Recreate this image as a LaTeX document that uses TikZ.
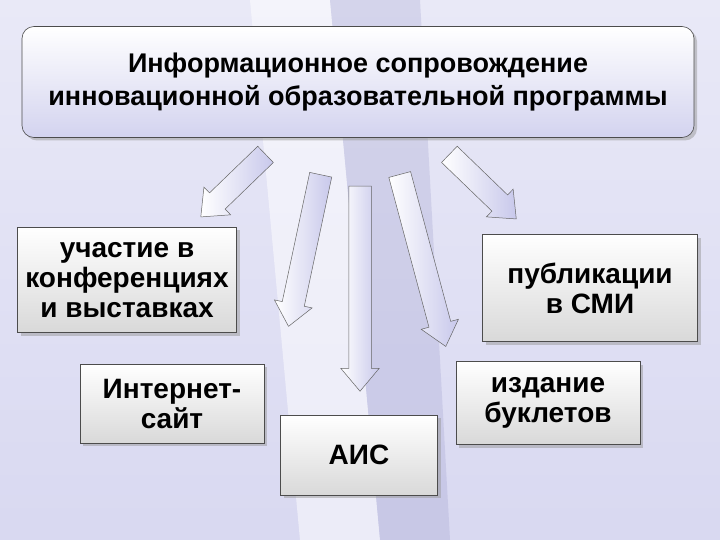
\documentclass[tikz,border=0pt]{standalone}
\usepackage{fontspec}
\setmainfont{Liberation Sans}
\usetikzlibrary{shapes.arrows,shadows}
\definecolor{lav}{RGB}{200,200,235}
\definecolor{lavd}{RGB}{150,150,200}
\tikzset{
 box/.style={draw=black!70,line width=0.6pt,top color=white,bottom color=black!15,
   drop shadow={shadow xshift=3pt,shadow yshift=-3pt,fill=black!40},
   font=\bfseries\fontsize{28}{30}\selectfont,align=center,inner sep=1pt},
 barrow/.style={single arrow,draw=black!60,line width=0.5pt,left color=white,right color=lav,
   single arrow head extend=8pt,single arrow tip angle=80,inner xsep=0pt,inner ysep=11pt}
}
\begin{document}
\begin{tikzpicture}[x=1pt,y=-1pt]
\useasboundingbox (0,0) rectangle (720,540);
\fill[top color=lav!40,bottom color=lav!70] (0,0) rectangle (720,540);
\fill[white,opacity=0.5] (250,0) -- (330,0) -- (380,540) -- (300,540) -- cycle;
\fill[lavd,opacity=0.25] (330,0) -- (420,0) -- (450,540) -- (380,540) -- cycle;
\node[box,rounded corners=12pt,top color=white,bottom color=lav!80,minimum width=672pt,minimum height=111pt,
  font=\bfseries\fontsize{27}{33}\selectfont] (top) at (358,82)
  {Информационное сопровождение\\инновационной образовательной программы};
\node[barrow,minimum height=90pt,rotate=224] (a1) at (238,181) {};
\node[barrow,minimum height=155pt,rotate=258] (a2) at (306,244) {};
\node[barrow,minimum height=205pt,rotate=270] (a3) at (360,282) {};
\node[barrow,minimum height=178pt,rotate=285] (a4) at (421,254) {};
\node[barrow,minimum height=93pt,rotate=316] (a5) at (478,182) {};
\node[box,minimum width=219pt,minimum height=105pt] (b1) at (127,280) {участие в\\конференциях\\и выставках};
\node[box,minimum width=215pt,minimum height=107pt] (b2) at (590,288) {публикации\\в СМИ};
\node[box,minimum width=184pt,minimum height=79pt,anchor=north] (b3) at (172,364) {Интернет-\\сайт};
\node[box,minimum width=157pt,minimum height=80pt] (b4) at (359,455) {АИС};
\node[box,minimum width=184pt,minimum height=83pt] (b5) at (548,403) {издание\\буклетов};
\end{tikzpicture}
\end{document}
